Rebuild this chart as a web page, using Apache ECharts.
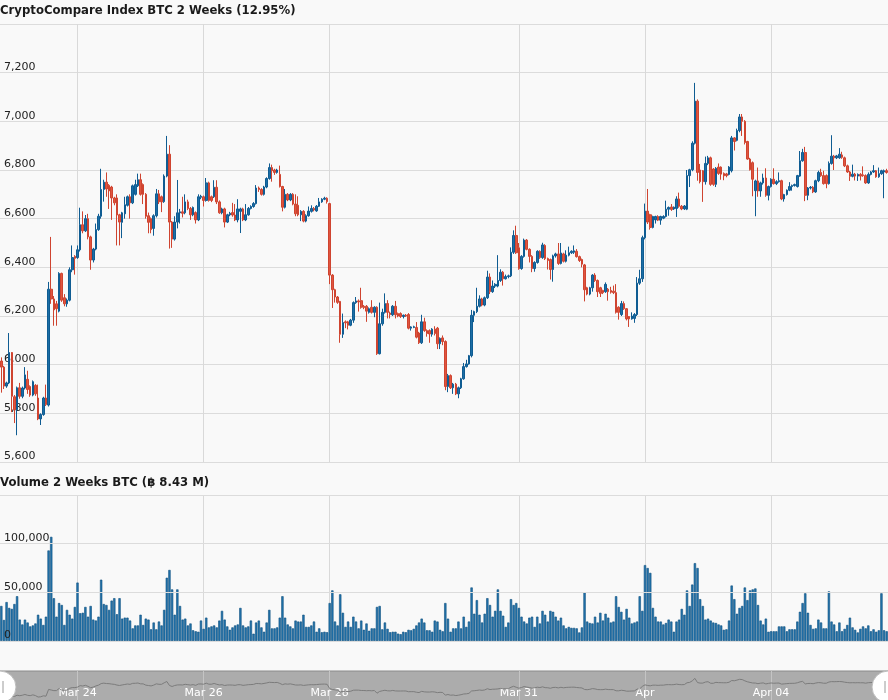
<!DOCTYPE html>
<html><head><meta charset="utf-8">
<script src="https://cdn.jsdelivr.net/npm/echarts@6/dist/echarts.min.js"></script>
<style>html,body{margin:0;padding:0;background:#f9f9f9}#c{width:888px;height:700px}</style>
</head><body><div id="c"></div><script>
const priceTitle = 'CryptoCompare Index BTC 2 Weeks (12.95%)';
const volumeTitle = 'Volume 2 Weeks BTC (\u0E3F 8.43 M)';
const startHourUTC = Date.UTC(2018, 2, 22, 19);
const tickDates = ['03-24 00:00','03-26 00:00','03-28 00:00','03-31 00:00','04-02 00:00','04-04 00:00'];
const tickLabels = ['Mar 24','Mar 26','Mar 28','Mar 31','Apr','Apr 04'];

const open = [
6015,5990,5912,5925,6050,5868,5815,5905,5870,5904,
5940,5910,5875,5915,5863,5777,5795,5863,5834,6310,
6270,6250,6220,6375,6275,6250,6265,6390,6445,6440,
6472,6575,6550,6600,6525,6430,6475,6555,6610,6720,
6750,6737,6730,6685,6685,6616,6585,6620,6655,6690,
6665,6700,6735,6760,6740,6700,6612,6600,6560,6612,
6702,6690,6670,6775,6865,6586,6516,6586,6624,6628,
6624,6669,6642,6616,6625,6595,6688,6690,6675,6747,
6690,6690,6729,6669,6624,6640,6586,6616,6625,6615,
6595,6630,6640,6595,6616,6642,6650,6662,6726,6720,
6700,6730,6765,6810,6800,6790,6782,6732,6647,6700,
6677,6700,6660,6655,6616,6630,6590,6612,6630,6642,
6632,6651,6669,6680,6684,6662,6368,6308,6278,6260,
6125,6176,6176,6162,6183,6255,6262,6263,6240,6240,
6215,6236,6215,6236,6045,6168,6215,6251,6212,6205,
6240,6210,6210,6198,6203,6206,6150,6153,6153,6130,
6090,6176,6140,6140,6125,6146,6150,6086,6110,6095,
5910,5955,5905,5920,5880,5905,5942,5992,6003,6037,
6203,6218,6240,6270,6245,6275,6360,6300,6323,6323,
6346,6380,6353,6362,6365,6462,6531,6480,6395,6445,
6512,6474,6445,6395,6420,6466,6440,6490,6436,6432,
6391,6447,6455,6416,6455,6425,6450,6460,6462,6466,
6444,6432,6410,6316,6290,6316,6368,6346,6316,6305,
6300,6310,6305,6302,6296,6236,6206,6251,6230,6198,
6188,6190,6206,6335,6353,6522,6631,6616,6564,6595,
6609,6594,6602,6609,6639,6648,6640,6642,6681,6651,
6640,6639,6777,6801,6910,7083,6800,6797,6752,6827,
6850,6804,6741,6812,6812,6786,6784,6782,6797,6932,
6922,6962,7018,7000,6917,6845,6830,6715,6755,6714,
6747,6767,6696,6732,6762,6744,6752,6756,6681,6699,
6717,6732,6736,6732,6775,6838,6872,6696,6726,6729,
6710,6756,6790,6777,6777,6744,6827,6857,6850,6850,
6862,6850,6817,6792,6774,6783,6775,6782,6780,6777,
6747,6782,6792,6797,6772,6785,6792,6797];

const close = [
5990,5912,5925,6050,5870,5815,5905,5870,5904,5958,
5898,5875,5930,5880,5777,5795,5863,5836,6310,6270,
6225,6230,6375,6265,6250,6265,6390,6440,6437,6472,
6575,6550,6600,6525,6430,6475,6555,6610,6720,6750,
6722,6714,6685,6665,6615,6586,6624,6657,6690,6665,
6735,6740,6760,6700,6700,6610,6585,6555,6612,6702,
6669,6669,6775,6865,6586,6516,6586,6624,6628,6622,
6669,6642,6616,6646,6595,6690,6692,6675,6747,6675,
6675,6729,6669,6624,6640,6586,6616,6622,6615,6595,
6640,6640,6595,6616,6642,6650,6662,6726,6720,6700,
6730,6765,6810,6797,6790,6800,6732,6647,6700,6677,
6700,6660,6620,6616,6630,6590,6612,6631,6642,6636,
6651,6669,6680,6684,6670,6368,6308,6278,6256,6125,
6173,6172,6162,6183,6255,6262,6258,6236,6235,6220,
6230,6215,6236,6045,6168,6215,6251,6215,6206,6240,
6205,6200,6198,6203,6200,6150,6155,6156,6113,6090,
6176,6140,6128,6126,6146,6128,6086,6108,6095,5910,
5955,5905,5920,5880,5905,5942,5992,6003,6037,6203,
6218,6240,6270,6245,6275,6360,6300,6323,6330,6346,
6380,6353,6362,6365,6462,6531,6460,6395,6445,6512,
6474,6445,6395,6420,6466,6440,6492,6436,6428,6391,
6447,6455,6416,6459,6425,6450,6460,6466,6468,6444,
6428,6413,6308,6290,6316,6368,6346,6300,6293,6296,
6330,6300,6298,6296,6215,6215,6251,6230,6188,6188,
6200,6206,6335,6353,6522,6631,6586,6564,6609,6609,
6594,6609,6609,6639,6646,6638,6647,6681,6651,6640,
6652,6777,6801,6910,7083,6790,6752,6752,6827,6850,
6741,6741,6807,6786,6783,6776,6777,6812,6932,6917,
6962,7018,7000,6913,6845,6801,6762,6755,6714,6747,
6767,6696,6732,6762,6744,6752,6756,6681,6699,6717,
6732,6736,6740,6777,6838,6872,6696,6726,6729,6710,
6756,6790,6777,6744,6744,6827,6857,6850,6858,6865,
6852,6817,6792,6774,6783,6775,6782,6775,6777,6747,
6782,6792,6797,6772,6785,6797,6797,6790];

const low = [
5885,5900,5905,5920,5805,5760,5710,5860,5862,5898,
5880,5868,5870,5872,5772,5752,5790,5830,5828,6250,
6160,6160,6215,6258,6240,6238,6260,6380,6370,6435,
6465,6540,6545,6515,6390,6420,6470,6550,6600,6670,
6690,6640,6595,6655,6490,6490,6520,6600,6650,6600,
6660,6695,6730,6695,6660,6600,6540,6540,6530,6605,
6660,6627,6665,6770,6477,6480,6510,6560,6580,6605,
6618,6635,6595,6610,6580,6590,6680,6650,6670,6670,
6668,6685,6660,6620,6618,6564,6582,6610,6608,6590,
6585,6541,6590,6590,6612,6638,6645,6658,6710,6695,
6695,6725,6760,6752,6780,6785,6728,6630,6642,6672,
6672,6655,6610,6610,6590,6585,6585,6608,6625,6630,
6628,6648,6665,6676,6662,6331,6233,6255,6250,6090,
6110,6150,6145,6158,6172,6250,6218,6230,6228,6176,
6210,6210,6195,6040,6042,6160,6210,6190,6190,6200,
6190,6195,6192,6190,6196,6145,6140,6150,6108,6085,
6085,6135,6115,6090,6115,6120,6064,6064,6080,5895,
5887,5900,5880,5875,5862,5900,5938,5988,6000,6030,
6175,6212,6235,6240,6240,6270,6290,6295,6315,6318,
6340,6325,6350,6355,6360,6455,6455,6390,6390,6440,
6470,6420,6380,6382,6415,6435,6435,6430,6391,6350,
6341,6440,6410,6412,6420,6420,6445,6455,6455,6440,
6422,6400,6260,6285,6285,6300,6340,6278,6278,6290,
6295,6263,6292,6290,6210,6185,6200,6225,6182,6155,
6185,6172,6200,6328,6340,6515,6578,6555,6560,6580,
6590,6575,6598,6605,6612,6632,6636,6607,6645,6635,
6636,6635,6730,6795,6905,6756,6745,6669,6740,6820,
6735,6735,6730,6780,6760,6758,6770,6778,6790,6880,
6918,6955,6940,6905,6842,6798,6692,6610,6690,6690,
6740,6690,6675,6728,6740,6738,6748,6676,6670,6695,
6713,6715,6732,6728,6772,6834,6672,6676,6720,6705,
6706,6750,6772,6740,6725,6740,6822,6800,6845,6846,
6846,6812,6788,6755,6770,6757,6755,6757,6772,6743,
6743,6778,6788,6768,6768,6780,6684,6785];

const high = [
6030,5995,5930,6130,6052,5875,5910,5925,5910,5990,
5975,5915,5935,5920,5918,5800,5868,5918,6340,6525,
6282,6262,6380,6378,6290,6272,6400,6490,6450,6490,
6645,6630,6615,6620,6530,6480,6580,6620,6805,6760,
6790,6742,6735,6690,6700,6620,6628,6690,6695,6700,
6740,6760,6785,6785,6745,6705,6625,6605,6618,6722,
6718,6695,6782,6940,6902,6590,6610,6759,6640,6690,
6700,6678,6648,6650,6630,6700,6698,6695,6767,6752,
6695,6758,6758,6675,6645,6645,6620,6628,6665,6660,
6680,6645,6645,6660,6648,6655,6668,6738,6732,6725,
6735,6770,6827,6822,6805,6805,6818,6735,6722,6705,
6705,6705,6700,6692,6635,6635,6618,6650,6655,6648,
6656,6685,6684,6690,6688,6665,6372,6312,6282,6262,
6210,6182,6180,6188,6260,6278,6268,6316,6245,6245,
6235,6265,6240,6240,6255,6230,6293,6265,6218,6245,
6262,6214,6215,6206,6208,6212,6158,6160,6175,6135,
6205,6193,6145,6145,6150,6158,6155,6112,6120,6100,
5962,5960,5925,5925,5910,5946,6007,6020,6040,6225,
6222,6316,6285,6275,6280,6386,6375,6346,6335,6450,
6392,6385,6370,6370,6482,6552,6571,6500,6450,6518,
6516,6478,6450,6425,6470,6470,6501,6495,6440,6436,
6452,6460,6500,6500,6460,6470,6485,6470,6490,6475,
6448,6436,6414,6320,6320,6372,6376,6350,6320,6308,
6338,6315,6320,6325,6331,6240,6262,6260,6232,6200,
6215,6212,6360,6390,6530,6662,6722,6620,6612,6612,
6614,6612,6614,6674,6650,6660,6650,6692,6707,6656,
6656,6800,6805,6918,7158,7090,6825,6800,6855,6858,
6855,6808,6812,6827,6815,6790,6788,6816,6940,6935,
6970,7030,7030,7005,6920,6850,6835,6760,6810,6752,
6785,6807,6736,6766,6807,6758,6790,6760,6702,6720,
6750,6740,6744,6780,6878,6887,6895,6730,6734,6734,
6760,6797,6805,6797,6782,6835,6943,6862,6862,6890,
6875,6855,6822,6796,6822,6788,6786,6787,6815,6782,
6790,6796,6820,6800,6810,6801,6802,6805];

const volume = [
36000,21600,40000,34000,33000,38000,46000,22000,17000,22000,
19000,15000,16000,18000,27000,23000,16500,25000,93000,107000,
44000,25000,39000,37000,16500,32000,27000,23000,35000,60000,
28500,29000,35000,25000,36000,22000,21000,25000,63000,38000,
37000,32000,41500,44000,27500,44000,23000,24000,24000,21000,
13000,16000,16000,27000,16500,23000,22000,12000,19000,12000,
20000,16000,32000,65000,73000,53000,27000,53000,36000,22000,
23000,16000,18000,11000,10000,9500,21000,12500,24000,14000,
15000,16000,14000,21000,31000,22000,15000,11500,14000,16000,
17000,34000,16000,14000,15000,21000,7500,19000,21000,14000,
9500,19000,32000,13000,13000,14000,24000,46000,24000,17000,
15000,13000,21000,20000,20000,27000,14500,14500,16000,20000,
9500,13000,9000,9500,9000,39000,52000,20000,16000,48000,
29000,14500,20000,14500,25000,20000,13000,21000,11500,18000,
10500,13000,13000,35000,36000,12000,19000,12500,9000,9500,
9500,7600,7000,9500,9000,11500,11000,12500,16000,19000,
23000,19000,11000,11000,9500,21000,20000,11500,10000,39000,
23000,9500,13000,13000,20000,13000,25000,14500,20000,55000,
28000,42000,27000,19000,28000,44000,37000,25000,31000,53000,
31000,26000,14500,19000,43000,37000,39000,34000,25000,20000,
18000,24000,25000,14500,25000,18000,31000,27000,20000,31000,
30000,25000,21000,24000,16000,13000,14500,13500,13500,13000,
8800,14000,50000,20000,18500,18000,25000,19000,29000,21000,
28000,24000,19000,20000,46000,35000,30000,22000,33000,24000,
18000,19000,20000,46000,31000,78000,75000,70000,34000,25000,
20000,20000,17000,18500,22000,20000,9500,20000,22000,33000,
27000,52000,36000,58000,80000,75000,43000,36000,22000,23000,
21000,19000,18500,17000,16000,11500,12000,21000,57000,43000,
28000,34000,36000,55000,42000,52000,53000,54000,37000,21000,
17000,23000,9500,10000,10000,10000,15000,15000,15000,10000,
12000,12000,12000,20000,30000,39000,49000,29000,16500,12500,
13000,22000,19000,13000,13000,51000,20000,17000,10000,19000,
10000,12500,16500,24000,14000,11500,8800,12500,15000,13000,
16000,10000,12000,9500,11000,49000,11000,10000];

const pad = n => (n < 10 ? '0' : '') + n;
const categories = open.map((_, i) => {
  const d = new Date(startHourUTC + i * 3600000);
  return pad(d.getUTCMonth() + 1) + '-' + pad(d.getUTCDate()) + ' ' + pad(d.getUTCHours()) + ':00';
});
const candles = open.map((o, i) => [o, close[i], low[i], high[i]]);
const isTick = (idx, val) => tickDates.indexOf(val) >= 0;

const FONT = 'DejaVu Sans';
const gridLine = { show: true, interval: isTick, alignWithLabel: true, lineStyle: { color: '#d9d9d9', width: 1 } };
const numFmt = v => Number(v).toLocaleString('en-US');
const yLabel = { inside: true, margin: 4, verticalAlign: 'bottom', showMaxLabel: false,
  fontFamily: FONT, fontSize: 11, color: '#222', formatter: numFmt };

function xAx(grid, extra) {
  return Object.assign({
    type: 'category', gridIndex: grid, data: categories, boundaryGap: true,
    axisLine: { show: false }, axisTick: { show: false, alignWithLabel: true },
    axisLabel: { show: false }, splitLine: gridLine
  }, extra || {});
}

const chart = echarts.init(document.getElementById('c'), null, { renderer: 'canvas' });
chart.setOption({
  animation: false,
  backgroundColor: '#f9f9f9',
  textStyle: { fontFamily: FONT },
  title: [
    { text: priceTitle, left: 0, top: 5, padding: 0,
      textStyle: { fontFamily: FONT, fontSize: 11.7, fontWeight: 'bold', color: '#1a1a1a' } },
    { text: volumeTitle, left: 0, top: 477, padding: 0,
      textStyle: { fontFamily: FONT, fontSize: 11.7, fontWeight: 'bold', color: '#1a1a1a' } }
  ],
  grid: [
    { left: 0, right: 0, top: 24, height: 438, outerBoundsMode: 'none' },
    { left: 0, right: 0, top: 495, height: 146, outerBoundsMode: 'none' },
    { left: 0, right: 0, top: 671, height: 30, outerBoundsMode: 'none', show: true,
      backgroundColor: '#acacac', borderColor: '#8a8a8a', borderWidth: 1 }
  ],
  xAxis: [
    xAx(0),
    xAx(1),
    xAx(2, {
      splitLine: { show: true, interval: isTick, alignWithLabel: true, lineStyle: { color: '#c4c4c4', width: 1 } },
      axisLabel: { show: true, inside: true, margin: 2, interval: isTick, color: '#ffffff',
        fontFamily: FONT, fontSize: 11,
        formatter: v => tickLabels[tickDates.indexOf(v)] }
    })
  ],
  yAxis: [
    { type: 'value', gridIndex: 0, min: 5600, max: 7400, interval: 200,
      axisLine: { show: false }, axisTick: { show: false }, axisLabel: yLabel,
      splitLine: { show: true, lineStyle: { color: '#dcdcdc', width: 1 } } },
    { type: 'value', gridIndex: 1, min: 0, max: 150000, interval: 50000, z: 10,
      axisLine: { show: false }, axisTick: { show: false }, axisLabel: yLabel,
      splitLine: { show: true, lineStyle: { color: '#dcdcdc', width: 1 } } },
    { type: 'value', gridIndex: 2, min: 5500, max: 7600, show: false, splitLine: { show: false } }
  ],
  series: [
    { type: 'candlestick', xAxisIndex: 0, yAxisIndex: 0, data: candles, barWidth: '78%',
      itemStyle: { color: '#1c6ea6', color0: '#e0553f', borderColor: '#0f5c92', borderColor0: '#cf4430', borderWidth: 1 } },
    { type: 'bar', xAxisIndex: 1, yAxisIndex: 1, data: volume, barCategoryGap: '12%',
      itemStyle: { color: '#2274ad', borderColor: '#0d4f7e', borderWidth: 0.6 } },
    { type: 'line', xAxisIndex: 2, yAxisIndex: 2, data: close, symbol: 'none', silent: true,
      lineStyle: { color: '#7c7c7c', width: 1 } }
  ],
  graphic: [
    { type: 'circle', z: 100, shape: { cx: 0, cy: 687, r: 16 }, style: { fill: '#ffffff', stroke: '#bdbdbd', lineWidth: 1 } },
    { type: 'line', z: 101, shape: { x1: 3, y1: 681, x2: 3, y2: 693 }, style: { stroke: '#9a9a9a', lineWidth: 1 } },
    { type: 'circle', z: 100, shape: { cx: 888, cy: 687, r: 16 }, style: { fill: '#ffffff', stroke: '#bdbdbd', lineWidth: 1 } },
    { type: 'line', z: 101, shape: { x1: 885, y1: 681, x2: 885, y2: 693 }, style: { stroke: '#9a9a9a', lineWidth: 1 } }
  ]
});
</script></body></html>
